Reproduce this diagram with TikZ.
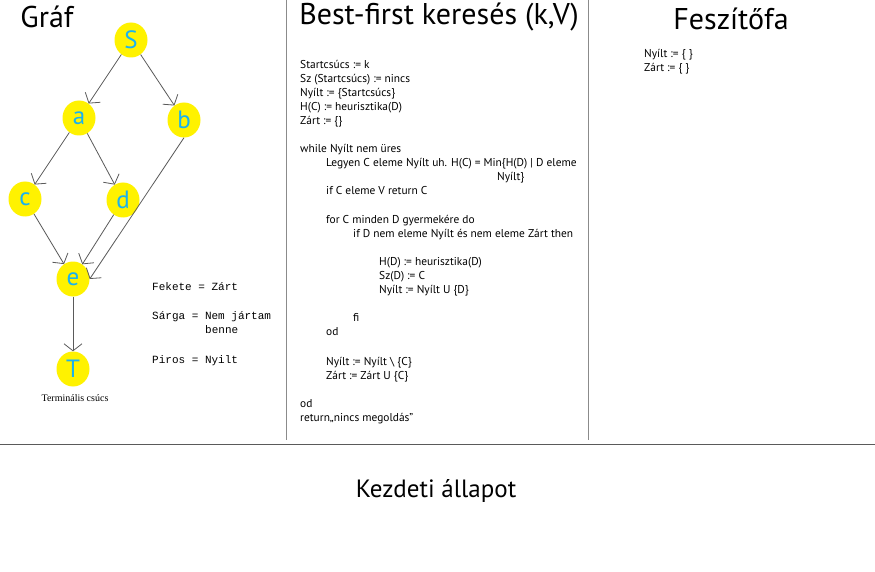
\documentclass[tikz,border=0pt]{standalone}
\usepackage{fontspec}
\setmainfont{PT Sans}
\newfontfamily\legendfont{Liberation Mono}
\newfontfamily\serifTNR{Liberation Serif}
\usetikzlibrary{arrows.meta,shapes.geometric}
\definecolor{nodecyan}{RGB}{25,178,240}
\definecolor{linegray}{RGB}{90,90,90}
\tikzset{
  vert/.style={ellipse,inner sep=0pt,minimum width=33pt,minimum height=35pt,fill=yellow,text=nodecyan,font=\fontsize{25}{25}\selectfont},
  edge/.style={draw=linegray,line width=0.8pt,-{Straight Barb[length=7pt,width=18pt,line width=0.8pt]}},
  sep/.style={draw=linegray!70,line width=1pt},
  code/.style={anchor=base west,inner sep=0pt,font=\fontsize{11.4}{11.4}\selectfont},
  legend/.style={anchor=base west,inner sep=0pt,font=\legendfont\fontsize{11}{11}\selectfont},
  titletext/.style={anchor=center,inner sep=0pt,font=\fontsize{30}{30}\selectfont}
}
\begin{document}
\begin{tikzpicture}[x=1pt,y=-1pt]
\fill[white] (0,0) rectangle (875,572);
\useasboundingbox (0,0) rectangle (875,572);
% separators
\coordinate (v1t) at (286,0); \coordinate (v1b) at (286,440);
\coordinate (v2t) at (588,0); \coordinate (v2b) at (588,440);
\coordinate (hl) at (0,444); \coordinate (hr) at (875,444);
\draw[sep] (v1t) -- (v1b);
\draw[sep] (v2t) -- (v2b);
\draw[sep,draw=linegray] (hl) -- (hr);
% titles
\node[titletext] (t1) at (47,17) {Gráf};
\node[titletext] (t2) at (439,17) {Best-first keresés (k,V)};
\node[titletext] (t3) at (731,19) {Feszítőfa};
\node[anchor=center,inner sep=0pt,font=\fontsize{25}{25}\selectfont] (t4) at (436,491) {Kezdeti állapot};
% graph
\node[vert] (S) at (131,40) {S};
\node[vert] (a) at (79,118) {a};
\node[vert] (b) at (184,120) {b};
\node[vert] (c) at (25,199) {c};
\node[vert] (d) at (123,200) {d};
\node[vert] (e) at (73,279) {e};
\node[vert] (T) at (73,369) {T};
\draw[edge] (S) -- (a);
\draw[edge] (S) -- (b);
\draw[edge] (a) -- (c);
\draw[edge] (a) -- (d);
\draw[edge] (c) -- (e);
\draw[edge] (d) -- (e);
\draw[edge] (b.south) -- (e.east);
\draw[edge] (e) -- (T);
\node[anchor=center,inner sep=0pt,font=\serifTNR\fontsize{10}{10}\selectfont] (term) at (75,398) {Terminális csúcs};
% legend
\node[legend] (l1) at (152,290) {Fekete = Zárt};
\node[legend] (l2) at (152,319) {Sárga = Nem jártam};
\node[legend] (l3) at (205,333) {benne};
\node[legend] (l4) at (152,363) {Piros = Nyilt};
% pseudocode
\node[code] (p1) at (300,69) {Startcsúcs := k};
\node[code] (p2) at (300,83) {Sz (Startcsúcs) := nincs};
\node[code] (p3) at (300,97) {Nyílt := \{Startcsúcs\}};
\node[code] (p4) at (300,111) {H(C) := heurisztika(D)};
\node[code] (p5) at (300,125) {Zárt := \{\}};
\node[code] (p6) at (300,153) {while Nyílt nem üres};
\node[code] (p7) at (326,167) {Legyen C eleme Nyílt uh. H(C) = Min\{H(D) | D eleme};
\node[code] (p8) at (497,181) {Nyílt\}};
\node[code] (p9) at (326,195) {if C eleme V return C};
\node[code] (p10) at (326,223) {for C minden D gyermekére do};
\node[code] (p11) at (353,237) {if D nem eleme Nyílt és nem eleme Zárt then};
\node[code] (p12) at (379,265) {H(D) := heurisztika(D)};
\node[code] (p13) at (379,279) {Sz(D) := C};
\node[code] (p14) at (379,293) {Nyílt := Nyílt U \{D\}};
\node[code] (p15) at (353,321) {fi};
\node[code] (p16) at (326,335) {od};
\node[code] (p17) at (326,365) {Nyílt := Nyílt \textbackslash\ \{C\}};
\node[code] (p18) at (326,379) {Zárt := Zárt U \{C\}};
\node[code] (p19) at (300,407) {od};
\node[code] (p20) at (300,421) {return„nincs megoldás”};
% spanning tree
\node[code] (f1) at (644,58) {Nyílt := \{ \}};
\node[code] (f2) at (644,72) {Zárt := \{ \}};
\end{tikzpicture}
\end{document}
